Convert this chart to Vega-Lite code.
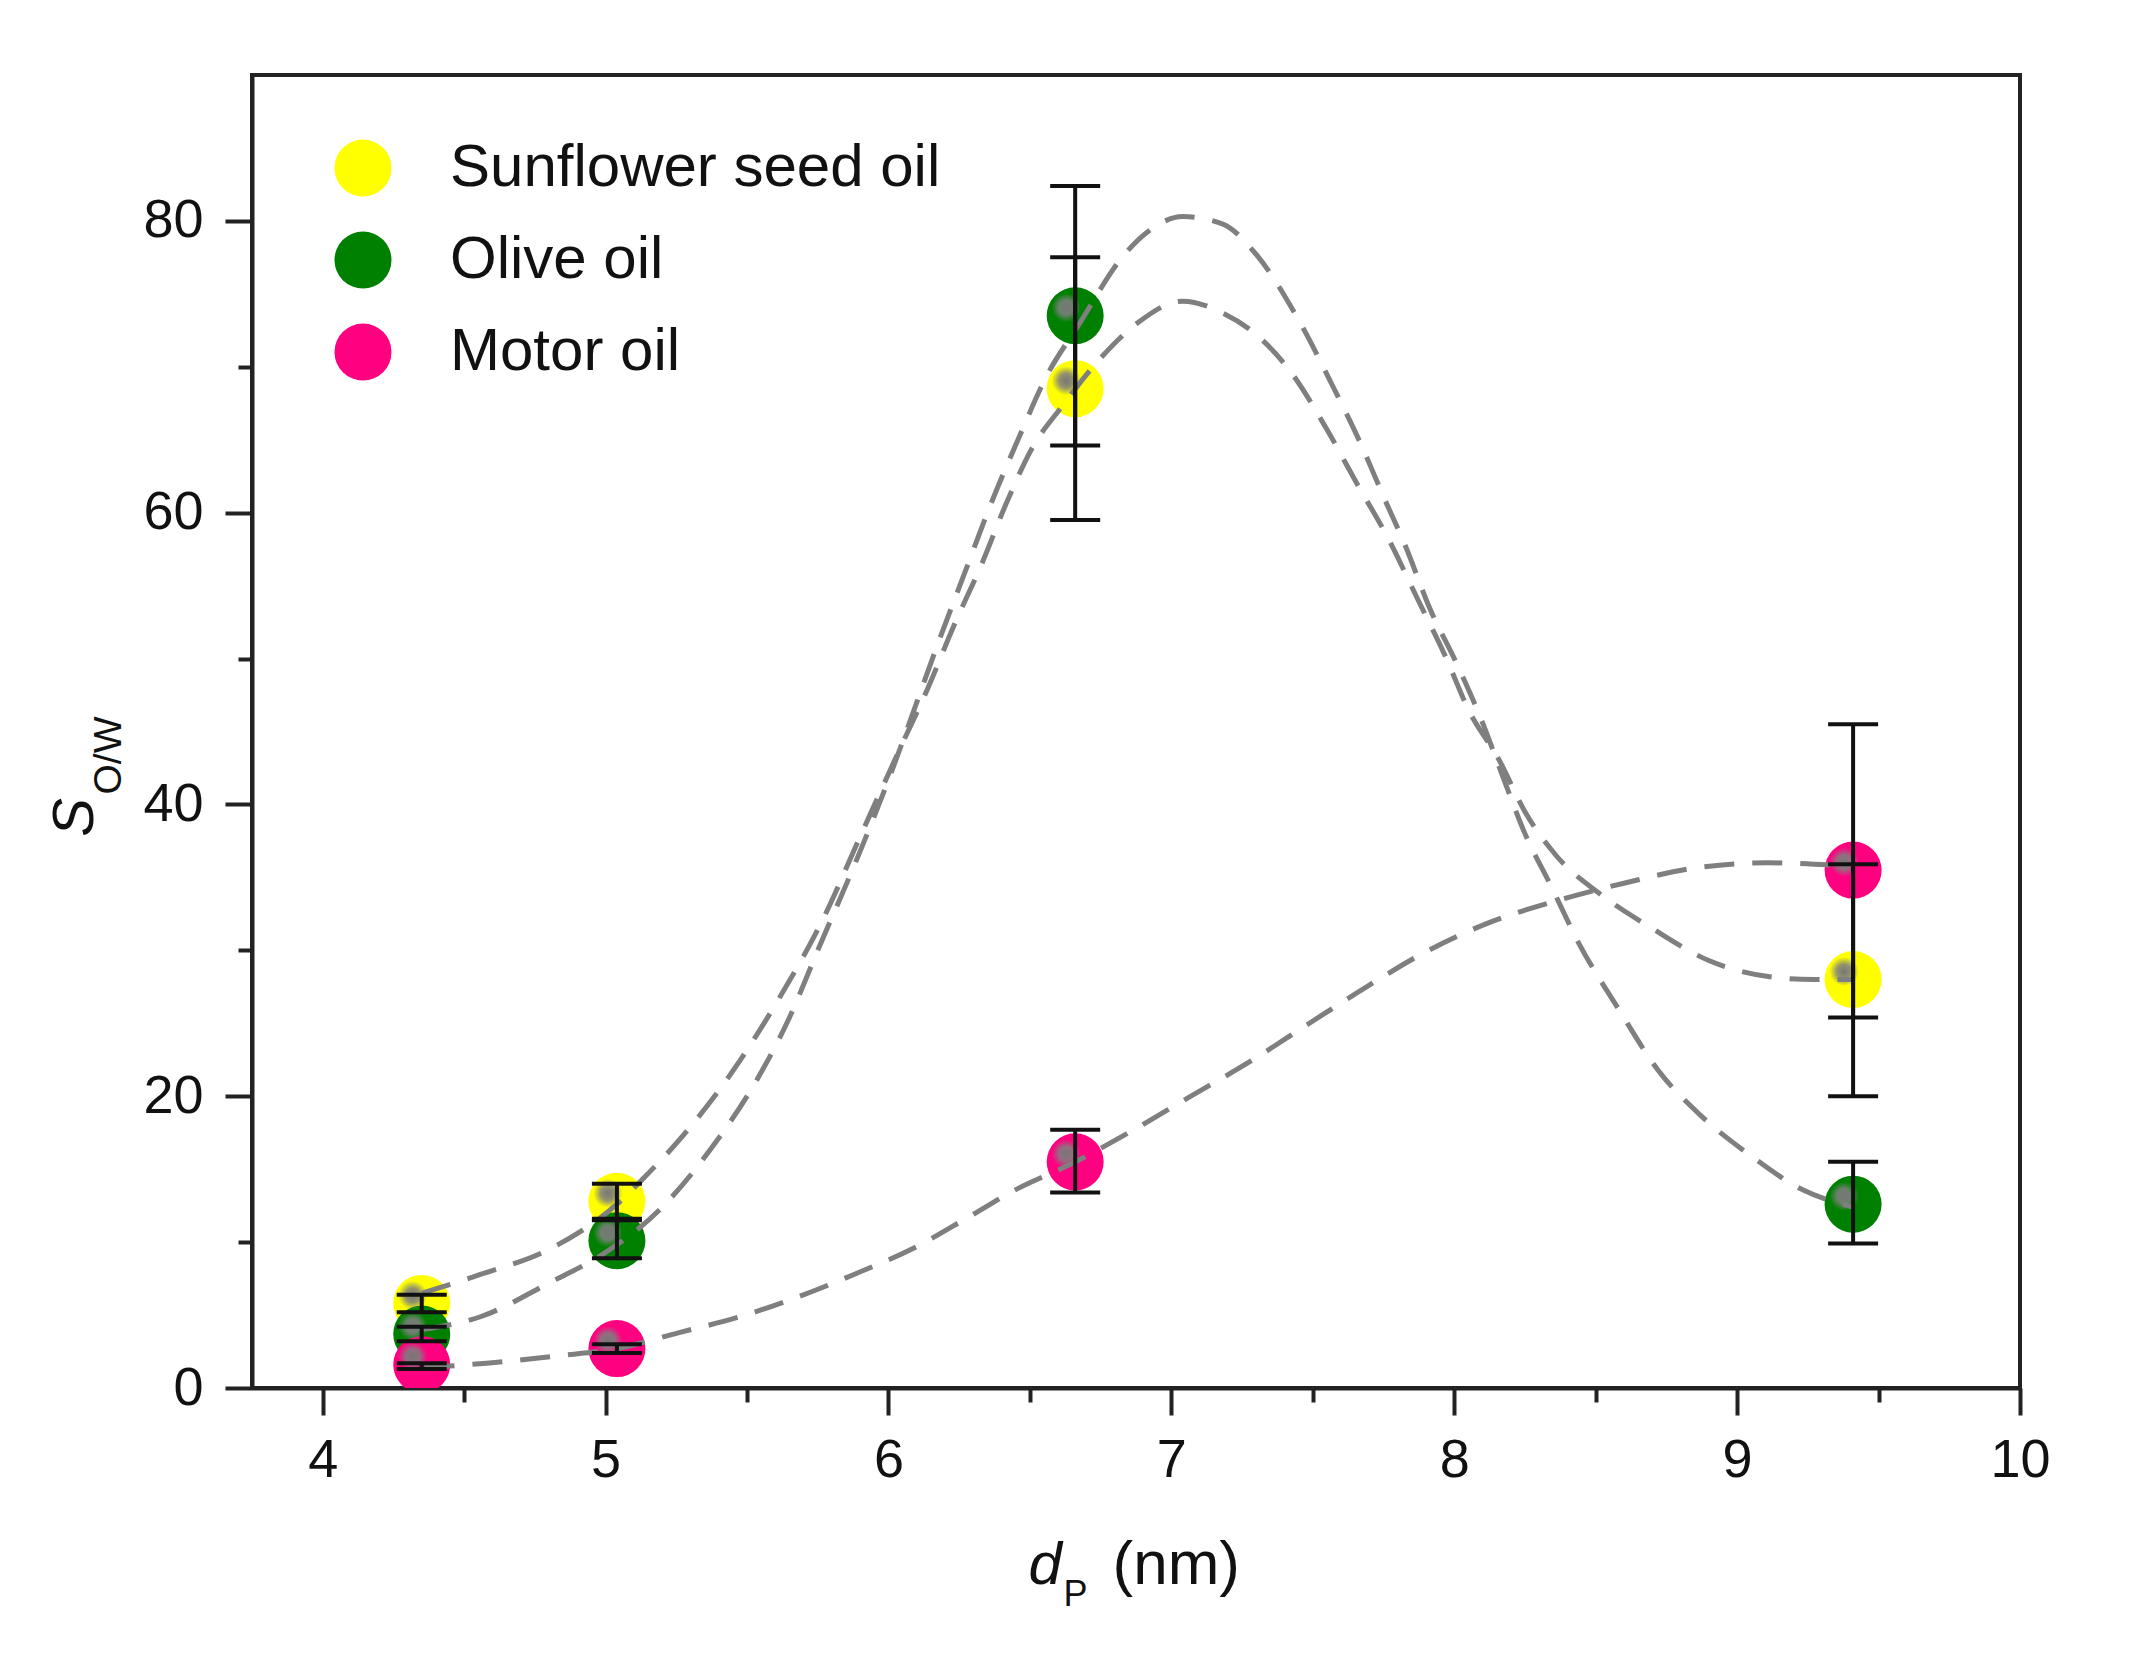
{
  "$schema": "https://vega.github.io/schema/vega-lite/v6.json",
  "autosize": {"type": "none"},
  "width": 1768,
  "height": 1313,
  "padding": {"left": 252, "top": 75, "right": 112, "bottom": 288},
  "background": "white",
  "config": {
    "font": "Liberation Sans",
    "view": {"stroke": "#222222", "strokeWidth": 4},
    "axis": {
      "domainColor": "#222222",
      "domainWidth": 4,
      "tickColor": "#222222",
      "tickWidth": 4,
      "labelFont": "Liberation Sans",
      "labelFontSize": 54,
      "labelColor": "#111111",
      "labelFlush": false,
      "titleColor": "#111111",
      "titleFont": "Liberation Sans",
      "titleFontWeight": "normal",
      "grid": false
    }
  },
  "datasets": {
    "pts": [
      {"oil": "Sunflower seed oil", "d": 4.35, "s": 5.8, "lo": 5.2, "hi": 6.4},
      {"oil": "Sunflower seed oil", "d": 5.04, "s": 12.8, "lo": 11.6, "hi": 14.0},
      {"oil": "Sunflower seed oil", "d": 6.66, "s": 68.5, "lo": 59.5, "hi": 77.5},
      {"oil": "Sunflower seed oil", "d": 9.41, "s": 28.0, "lo": 20.0, "hi": 35.9},
      {"oil": "Olive oil", "d": 4.35, "s": 3.7, "lo": 3.2, "hi": 4.2},
      {"oil": "Olive oil", "d": 5.04, "s": 10.1, "lo": 8.9, "hi": 11.5},
      {"oil": "Olive oil", "d": 6.66, "s": 73.5, "lo": 64.6, "hi": 82.4},
      {"oil": "Olive oil", "d": 9.41, "s": 12.6, "lo": 9.9, "hi": 15.5},
      {"oil": "Motor oil", "d": 4.35, "s": 1.6, "lo": 1.3, "hi": 1.7},
      {"oil": "Motor oil", "d": 5.04, "s": 2.7, "lo": 2.4, "hi": 3.0},
      {"oil": "Motor oil", "d": 6.66, "s": 15.5, "lo": 13.4, "hi": 17.7},
      {"oil": "Motor oil", "d": 9.41, "s": 35.5, "lo": 25.4, "hi": 45.5}
    ],
    "curves": [
      {"oil": "Olive oil", "d": 4.35, "s": 4.0},
      {"oil": "Olive oil", "d": 4.56, "s": 4.9},
      {"oil": "Olive oil", "d": 4.8, "s": 7.2},
      {"oil": "Olive oil", "d": 5.0, "s": 9.3},
      {"oil": "Olive oil", "d": 5.19, "s": 12.2},
      {"oil": "Olive oil", "d": 5.38, "s": 16.6},
      {"oil": "Olive oil", "d": 5.54, "s": 21.3},
      {"oil": "Olive oil", "d": 5.65, "s": 25.4},
      {"oil": "Olive oil", "d": 5.75, "s": 30.0},
      {"oil": "Olive oil", "d": 5.9, "s": 36.8},
      {"oil": "Olive oil", "d": 6.01, "s": 42.2},
      {"oil": "Olive oil", "d": 6.1, "s": 47.0},
      {"oil": "Olive oil", "d": 6.18, "s": 51.3},
      {"oil": "Olive oil", "d": 6.27, "s": 55.9},
      {"oil": "Olive oil", "d": 6.36, "s": 60.5},
      {"oil": "Olive oil", "d": 6.46, "s": 65.1},
      {"oil": "Olive oil", "d": 6.56, "s": 69.4},
      {"oil": "Olive oil", "d": 6.67, "s": 72.8},
      {"oil": "Olive oil", "d": 6.83, "s": 77.6},
      {"oil": "Olive oil", "d": 6.92, "s": 79.3},
      {"oil": "Olive oil", "d": 7.04, "s": 80.3},
      {"oil": "Olive oil", "d": 7.18, "s": 79.8},
      {"oil": "Olive oil", "d": 7.3, "s": 77.7},
      {"oil": "Olive oil", "d": 7.45, "s": 73.2},
      {"oil": "Olive oil", "d": 7.57, "s": 68.7},
      {"oil": "Olive oil", "d": 7.67, "s": 64.7},
      {"oil": "Olive oil", "d": 7.75, "s": 61.1},
      {"oil": "Olive oil", "d": 7.83, "s": 57.6},
      {"oil": "Olive oil", "d": 7.91, "s": 53.6},
      {"oil": "Olive oil", "d": 8.01, "s": 49.6},
      {"oil": "Olive oil", "d": 8.1, "s": 45.6},
      {"oil": "Olive oil", "d": 8.17, "s": 42.0},
      {"oil": "Olive oil", "d": 8.25, "s": 38.0},
      {"oil": "Olive oil", "d": 8.34, "s": 34.5},
      {"oil": "Olive oil", "d": 8.44, "s": 30.5},
      {"oil": "Olive oil", "d": 8.58, "s": 26.0},
      {"oil": "Olive oil", "d": 8.72, "s": 21.8},
      {"oil": "Olive oil", "d": 8.87, "s": 18.7},
      {"oil": "Olive oil", "d": 9.05, "s": 15.9},
      {"oil": "Olive oil", "d": 9.23, "s": 13.6},
      {"oil": "Olive oil", "d": 9.41, "s": 12.4},
      {"oil": "Sunflower seed oil", "d": 4.35, "s": 6.5},
      {"oil": "Sunflower seed oil", "d": 4.56, "s": 7.8},
      {"oil": "Sunflower seed oil", "d": 4.8, "s": 9.5},
      {"oil": "Sunflower seed oil", "d": 5.04, "s": 12.6},
      {"oil": "Sunflower seed oil", "d": 5.13, "s": 14.3},
      {"oil": "Sunflower seed oil", "d": 5.3, "s": 17.9},
      {"oil": "Sunflower seed oil", "d": 5.47, "s": 22.3},
      {"oil": "Sunflower seed oil", "d": 5.61, "s": 26.6},
      {"oil": "Sunflower seed oil", "d": 5.77, "s": 32.2},
      {"oil": "Sunflower seed oil", "d": 5.9, "s": 37.8},
      {"oil": "Sunflower seed oil", "d": 6.04, "s": 43.8},
      {"oil": "Sunflower seed oil", "d": 6.14, "s": 48.0},
      {"oil": "Sunflower seed oil", "d": 6.23, "s": 52.2},
      {"oil": "Sunflower seed oil", "d": 6.33, "s": 56.5},
      {"oil": "Sunflower seed oil", "d": 6.42, "s": 60.8},
      {"oil": "Sunflower seed oil", "d": 6.51, "s": 64.5},
      {"oil": "Sunflower seed oil", "d": 6.61, "s": 67.2},
      {"oil": "Sunflower seed oil", "d": 6.75, "s": 70.6},
      {"oil": "Sunflower seed oil", "d": 6.88, "s": 73.0},
      {"oil": "Sunflower seed oil", "d": 7.04, "s": 74.5},
      {"oil": "Sunflower seed oil", "d": 7.18, "s": 73.7},
      {"oil": "Sunflower seed oil", "d": 7.3, "s": 72.2},
      {"oil": "Sunflower seed oil", "d": 7.42, "s": 69.7},
      {"oil": "Sunflower seed oil", "d": 7.55, "s": 65.7},
      {"oil": "Sunflower seed oil", "d": 7.65, "s": 62.2},
      {"oil": "Sunflower seed oil", "d": 7.77, "s": 58.1},
      {"oil": "Sunflower seed oil", "d": 7.87, "s": 54.1},
      {"oil": "Sunflower seed oil", "d": 7.97, "s": 50.1},
      {"oil": "Sunflower seed oil", "d": 8.05, "s": 46.5},
      {"oil": "Sunflower seed oil", "d": 8.16, "s": 43.0},
      {"oil": "Sunflower seed oil", "d": 8.25, "s": 39.5},
      {"oil": "Sunflower seed oil", "d": 8.36, "s": 36.5},
      {"oil": "Sunflower seed oil", "d": 8.52, "s": 33.8},
      {"oil": "Sunflower seed oil", "d": 8.7, "s": 31.5},
      {"oil": "Sunflower seed oil", "d": 8.9, "s": 29.3},
      {"oil": "Sunflower seed oil", "d": 9.11, "s": 28.2},
      {"oil": "Sunflower seed oil", "d": 9.27, "s": 28.0},
      {"oil": "Sunflower seed oil", "d": 9.41, "s": 28.0},
      {"oil": "Motor oil", "d": 4.36, "s": 1.4},
      {"oil": "Motor oil", "d": 4.58, "s": 1.7},
      {"oil": "Motor oil", "d": 4.83, "s": 2.2},
      {"oil": "Motor oil", "d": 5.04, "s": 2.7},
      {"oil": "Motor oil", "d": 5.26, "s": 3.8},
      {"oil": "Motor oil", "d": 5.46, "s": 4.8},
      {"oil": "Motor oil", "d": 5.66, "s": 6.1},
      {"oil": "Motor oil", "d": 5.88, "s": 7.8},
      {"oil": "Motor oil", "d": 6.09, "s": 9.6},
      {"oil": "Motor oil", "d": 6.29, "s": 11.8},
      {"oil": "Motor oil", "d": 6.45, "s": 13.6},
      {"oil": "Motor oil", "d": 6.65, "s": 15.4},
      {"oil": "Motor oil", "d": 6.84, "s": 17.4},
      {"oil": "Motor oil", "d": 7.06, "s": 19.9},
      {"oil": "Motor oil", "d": 7.28, "s": 22.4},
      {"oil": "Motor oil", "d": 7.48, "s": 24.9},
      {"oil": "Motor oil", "d": 7.69, "s": 27.5},
      {"oil": "Motor oil", "d": 7.89, "s": 29.8},
      {"oil": "Motor oil", "d": 8.11, "s": 31.8},
      {"oil": "Motor oil", "d": 8.38, "s": 33.5},
      {"oil": "Motor oil", "d": 8.6, "s": 34.6},
      {"oil": "Motor oil", "d": 8.87, "s": 35.7},
      {"oil": "Motor oil", "d": 9.11, "s": 36.0},
      {"oil": "Motor oil", "d": 9.37, "s": 35.8}
    ]
  },
  "layer": [
    {
      "data": {"name": "pts"},
      "mark": {"type": "circle", "size": 3250, "opacity": 1, "clip": true},
      "encoding": {
        "x": {
          "field": "d", "type": "quantitative",
          "scale": {"domain": [3.75, 10], "nice": false, "zero": false},
          "axis": {"orient": "bottom", "domain": false, "ticks": false, "labels": false, "title": "P", "titleFontSize": 36, "titleX": 811, "titleY": 217, "titleAlign": "left", "titleBaseline": "alphabetic", "titleAngle": 0}
        },
        "y": {
          "field": "s", "type": "quantitative",
          "scale": {"domain": [0, 90], "nice": false, "zero": true},
          "axis": {"orient": "left", "domain": false, "ticks": false, "labels": false, "title": "O/W", "titleFontSize": 39, "titleAngle": 270, "titleX": -132, "titleY": 680, "titleAlign": "center", "titleBaseline": "alphabetic"}
        },
        "color": {
          "field": "oil", "type": "nominal",
          "scale": {"domain": ["Sunflower seed oil", "Olive oil", "Motor oil"], "range": ["#ffff00", "#008000", "#ff0080"]},
          "legend": {"orient": "none", "legendX": 81, "legendY": 63, "title": null, "labelFontSize": 60, "labelFont": "Liberation Sans", "labelColor": "#111111", "labelLimit": 1000, "symbolSize": 3250, "symbolType": "circle", "symbolStrokeWidth": 0, "symbolOpacity": 1, "rowPadding": 32, "labelOffset": 57, "padding": 0}
        }
      }
    },
    {
      "data": {"name": "pts"},
      "mark": {
        "type": "circle", "size": 850, "opacity": 1, "clip": true, "xOffset": -9, "yOffset": -8,
        "fill": {"gradient": "radial", "stops": [{"offset": 0, "color": "#767676"}, {"offset": 0.5, "color": "rgba(128,128,128,0.85)"}, {"offset": 1, "color": "rgba(128,128,128,0)"}]}
      },
      "encoding": {
        "x": {"field": "d", "type": "quantitative", "axis": null},
        "y": {"field": "s", "type": "quantitative", "axis": null}
      }
    },
    {
      "data": {"name": "curves"},
      "mark": {"type": "line", "interpolate": "monotone", "strokeDash": [30, 18], "strokeWidth": 5, "color": "#7f7f7f", "clip": true},
      "encoding": {
        "detail": {"field": "oil", "type": "nominal"},
        "x": {
          "field": "d", "type": "quantitative",
          "axis": {
            "orient": "bottom",
            "values": [4, 4.5, 5, 5.5, 6, 6.5, 7, 7.5, 8, 8.5, 9, 9.5, 10],
            "labelExpr": "datum.value % 1 === 0 ? format(datum.value, 'd') : ''",
            "tickSize": {"condition": {"test": "datum.value % 1 !== 0", "value": 14}, "value": 27},
            "labelPadding": 18,
            "labelFlush": false,
            "title": "d", "titleFontStyle": "italic", "titleFontSize": 60, "titleX": 776, "titleY": 195, "titleAlign": "left", "titleBaseline": "alphabetic", "titleAngle": 0
          }
        },
        "y": {
          "field": "s", "type": "quantitative",
          "axis": {
            "orient": "left",
            "values": [0, 10, 20, 30, 40, 50, 60, 70, 80],
            "labelExpr": "datum.value % 20 === 0 ? format(datum.value, 'd') : ''",
            "tickSize": {"condition": {"test": "datum.value % 20 !== 0", "value": 14}, "value": 27},
            "labelPadding": 22,
            "labelFlush": false,
            "title": "S", "titleFontStyle": "italic", "titleFontSize": 58, "titleAngle": 270, "titleX": -160, "titleY": 742, "titleAlign": "center", "titleBaseline": "alphabetic"
          }
        }
      }
    },
    {
      "data": {"name": "pts"},
      "mark": {"type": "rule", "color": "#111111", "strokeWidth": 4, "opacity": 1},
      "encoding": {
        "x": {
          "field": "d", "type": "quantitative",
          "axis": {"orient": "bottom", "domain": false, "ticks": false, "labels": false, "title": "(nm)", "titleFontSize": 62, "titleX": 860, "titleY": 195, "titleAlign": "left", "titleBaseline": "alphabetic", "titleAngle": 0}
        },
        "y": {"field": "lo", "type": "quantitative", "axis": null},
        "y2": {"field": "hi"}
      }
    },
    {
      "data": {"name": "pts"},
      "mark": {"type": "tick", "orient": "horizontal", "size": 50, "thickness": 4, "color": "#111111", "opacity": 1},
      "encoding": {
        "x": {"field": "d", "type": "quantitative", "axis": null},
        "y": {"field": "lo", "type": "quantitative", "axis": null}
      }
    },
    {
      "data": {"name": "pts"},
      "mark": {"type": "tick", "orient": "horizontal", "size": 50, "thickness": 4, "color": "#111111", "opacity": 1},
      "encoding": {
        "x": {"field": "d", "type": "quantitative", "axis": null},
        "y": {"field": "hi", "type": "quantitative", "axis": null}
      }
    }
  ],
  "resolve": {"axis": {"x": "independent", "y": "independent"}}
}
